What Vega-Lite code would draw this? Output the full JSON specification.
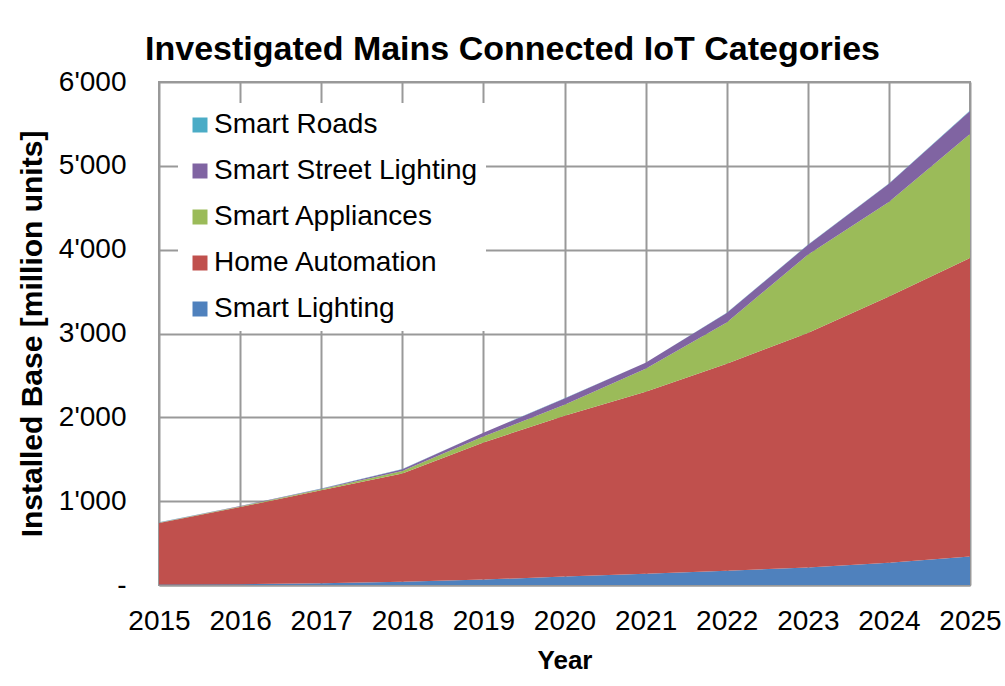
{
  "$schema": "https://vega.github.io/schema/vega-lite/v6.json",
  "width": 811,
  "height": 503,
  "autosize": {"type": "none"},
  "padding": {"left": 159, "top": 82, "right": 35, "bottom": 101},
  "background": "white",
  "title": {
    "text": "Investigated Mains Connected IoT Categories",
    "font": "Liberation Sans",
    "fontSize": 34,
    "fontWeight": "bold",
    "color": "black",
    "anchor": "middle",
    "dx": -52,
    "dy": 48,
    "baseline": "alphabetic",
    "offset": 22
  },
  "data": {
    "values": [
      {"year": 2015, "category": "Smart Lighting", "rank": 1, "value": 5},
      {"year": 2015, "category": "Home Automation", "rank": 2, "value": 735},
      {"year": 2015, "category": "Smart Appliances", "rank": 3, "value": 4},
      {"year": 2015, "category": "Smart Street Lighting", "rank": 4, "value": 3},
      {"year": 2015, "category": "Smart Roads", "rank": 5, "value": 1},
      {"year": 2016, "category": "Smart Lighting", "rank": 1, "value": 10},
      {"year": 2016, "category": "Home Automation", "rank": 2, "value": 920},
      {"year": 2016, "category": "Smart Appliances", "rank": 3, "value": 7},
      {"year": 2016, "category": "Smart Street Lighting", "rank": 4, "value": 4},
      {"year": 2016, "category": "Smart Roads", "rank": 5, "value": 1},
      {"year": 2017, "category": "Smart Lighting", "rank": 1, "value": 20},
      {"year": 2017, "category": "Home Automation", "rank": 2, "value": 1110},
      {"year": 2017, "category": "Smart Appliances", "rank": 3, "value": 12},
      {"year": 2017, "category": "Smart Street Lighting", "rank": 4, "value": 7},
      {"year": 2017, "category": "Smart Roads", "rank": 5, "value": 1},
      {"year": 2018, "category": "Smart Lighting", "rank": 1, "value": 40},
      {"year": 2018, "category": "Home Automation", "rank": 2, "value": 1290},
      {"year": 2018, "category": "Smart Appliances", "rank": 3, "value": 30},
      {"year": 2018, "category": "Smart Street Lighting", "rank": 4, "value": 22},
      {"year": 2018, "category": "Smart Roads", "rank": 5, "value": 1},
      {"year": 2019, "category": "Smart Lighting", "rank": 1, "value": 65},
      {"year": 2019, "category": "Home Automation", "rank": 2, "value": 1635},
      {"year": 2019, "category": "Smart Appliances", "rank": 3, "value": 70},
      {"year": 2019, "category": "Smart Street Lighting", "rank": 4, "value": 45},
      {"year": 2019, "category": "Smart Roads", "rank": 5, "value": 2},
      {"year": 2020, "category": "Smart Lighting", "rank": 1, "value": 100},
      {"year": 2020, "category": "Home Automation", "rank": 2, "value": 1920},
      {"year": 2020, "category": "Smart Appliances", "rank": 3, "value": 130},
      {"year": 2020, "category": "Smart Street Lighting", "rank": 4, "value": 75},
      {"year": 2020, "category": "Smart Roads", "rank": 5, "value": 2},
      {"year": 2021, "category": "Smart Lighting", "rank": 1, "value": 135},
      {"year": 2021, "category": "Home Automation", "rank": 2, "value": 2170},
      {"year": 2021, "category": "Smart Appliances", "rank": 3, "value": 275},
      {"year": 2021, "category": "Smart Street Lighting", "rank": 4, "value": 70},
      {"year": 2021, "category": "Smart Roads", "rank": 5, "value": 2},
      {"year": 2022, "category": "Smart Lighting", "rank": 1, "value": 170},
      {"year": 2022, "category": "Home Automation", "rank": 2, "value": 2470},
      {"year": 2022, "category": "Smart Appliances", "rank": 3, "value": 490},
      {"year": 2022, "category": "Smart Street Lighting", "rank": 4, "value": 115},
      {"year": 2022, "category": "Smart Roads", "rank": 5, "value": 3},
      {"year": 2023, "category": "Smart Lighting", "rank": 1, "value": 210},
      {"year": 2023, "category": "Home Automation", "rank": 2, "value": 2795},
      {"year": 2023, "category": "Smart Appliances", "rank": 3, "value": 935},
      {"year": 2023, "category": "Smart Street Lighting", "rank": 4, "value": 115},
      {"year": 2023, "category": "Smart Roads", "rank": 5, "value": 3},
      {"year": 2024, "category": "Smart Lighting", "rank": 1, "value": 265},
      {"year": 2024, "category": "Home Automation", "rank": 2, "value": 3175},
      {"year": 2024, "category": "Smart Appliances", "rank": 3, "value": 1130},
      {"year": 2024, "category": "Smart Street Lighting", "rank": 4, "value": 215},
      {"year": 2024, "category": "Smart Roads", "rank": 5, "value": 4},
      {"year": 2025, "category": "Smart Lighting", "rank": 1, "value": 340},
      {"year": 2025, "category": "Home Automation", "rank": 2, "value": 3560},
      {"year": 2025, "category": "Smart Appliances", "rank": 3, "value": 1480},
      {"year": 2025, "category": "Smart Street Lighting", "rank": 4, "value": 275},
      {"year": 2025, "category": "Smart Roads", "rank": 5, "value": 4}
    ]
  },
  "mark": {"type": "area", "opacity": 1, "interpolate": "linear"},
  "encoding": {
    "x": {
      "field": "year",
      "type": "quantitative",
      "scale": {"domain": [2015, 2025], "nice": false, "zero": false},
      "axis": {
        "values": [2015, 2016, 2017, 2018, 2019, 2020, 2021, 2022, 2023, 2024, 2025],
        "format": "d",
        "title": "Year",
        "grid": true,
        "gridColor": "#999999",
        "gridWidth": 2,
        "ticks": false,
        "domain": true,
        "domainColor": "#999999",
        "domainWidth": 2,
        "labelFont": "Liberation Sans",
        "labelFontSize": 28,
        "labelColor": "black",
        "labelPadding": 22,
        "labelFlush": false,
        "labelOverlap": false,
        "titleFont": "Liberation Sans",
        "titleFontSize": 26,
        "titleFontWeight": "bold",
        "titleColor": "black",
        "titlePadding": 12
      }
    },
    "y": {
      "field": "value",
      "type": "quantitative",
      "stack": "zero",
      "scale": {"domain": [0, 6000], "nice": false},
      "axis": {
        "values": [0, 1000, 2000, 3000, 4000, 5000, 6000],
        "labelExpr": "datum.value === 0 ? '-\u00a0\u00a0' : replace(format(datum.value, ','), ',', \"'\")",
        "title": "Installed Base [million units]",
        "grid": true,
        "gridColor": "#999999",
        "gridWidth": 2,
        "ticks": false,
        "domain": false,
        "labelFont": "Liberation Sans",
        "labelFontSize": 28,
        "labelColor": "black",
        "labelPadding": 33,
        "labelOverlap": false,
        "titleFont": "Liberation Sans",
        "titleFontSize": 30,
        "titleFontWeight": "bold",
        "titleColor": "black",
        "titlePadding": 11
      }
    },
    "color": {
      "field": "category",
      "type": "nominal",
      "scale": {
        "domain": ["Smart Roads", "Smart Street Lighting", "Smart Appliances", "Home Automation", "Smart Lighting"],
        "range": ["#4BACC6", "#8064A2", "#9BBB59", "#C0504D", "#4F81BD"]
      },
      "legend": {
        "orient": "none",
        "legendX": 19,
        "legendY": 21,
        "fillColor": "white",
        "padding": 8,
        "title": null,
        "labelFont": "Liberation Sans",
        "labelFontSize": 28,
        "labelColor": "black",
        "labelLimit": 400,
        "symbolType": "square",
        "symbolSize": 225,
        "symbolStrokeWidth": 0,
        "symbolOpacity": 1,
        "rowPadding": 18,
        "labelOffset": 0
      }
    },
    "order": {"field": "rank", "type": "quantitative"}
  },
  "config": {
    "view": {"stroke": "#999999", "strokeWidth": 2}
  }
}
